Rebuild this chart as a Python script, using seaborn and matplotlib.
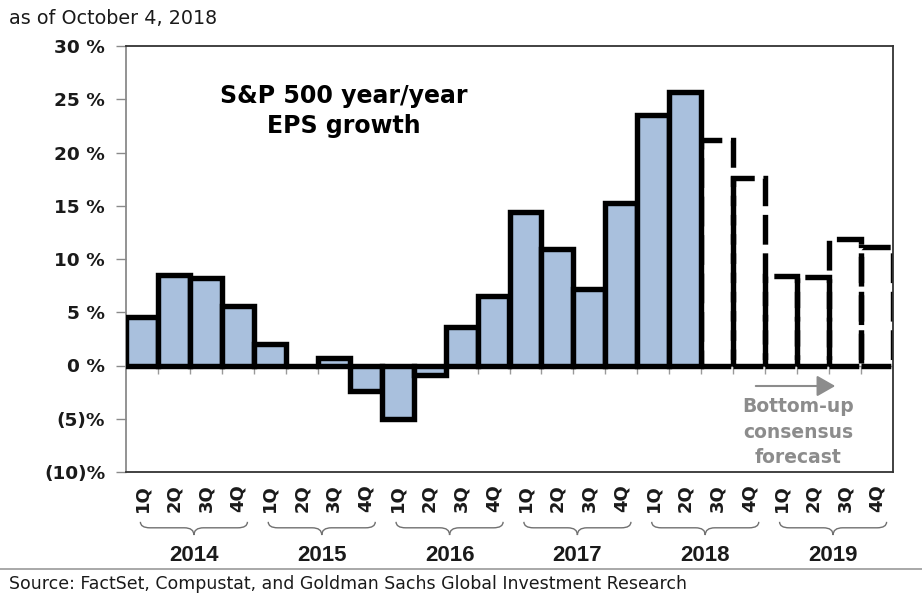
import matplotlib
matplotlib.use("Agg")
import matplotlib.pyplot as plt
import matplotlib.transforms as mtransforms
from matplotlib.path import Path
from matplotlib.patches import PathPatch, FancyArrowPatch
import seaborn as sns
import pandas as pd

# ---- data -------------------------------------------------------------
years = [2014, 2015, 2016, 2017, 2018, 2019]
quarter_names = ["1Q", "2Q", "3Q", "4Q"]
# reported S&P 500 year/year EPS growth (%), 1Q14 .. 2Q18
actual_growth = [4.6, 8.5, 8.2, 5.6,
                 2.0, 0.0, 0.7, -2.4,
                 -5.0, -0.9, 3.6, 6.5,
                 14.4, 10.9, 7.2, 15.3,
                 23.5, 25.7]
# bottom-up consensus forecast (%), 3Q18 .. 4Q19
forecast_growth = [21.2, 17.6,
                   8.4, 8.3, 11.9, 11.1]
y_ticks = [-10, -5, 0, 5, 10, 15, 20, 25, 30]
y_tick_labels = ["(10)%", "(5)%", "0 %", "5 %", "10 %", "15 %", "20 %", "25 %", "30 %"]

period_ids = [f"{q}{y % 100:02d}" for y in years for q in quarter_names]
tick_labels = [q for y in years for q in quarter_names]

n_act = len(actual_growth)
df_act = pd.DataFrame({"period": period_ids[:n_act], "growth": actual_growth})
df_fc = pd.DataFrame({"period": period_ids[n_act:], "growth": forecast_growth})

# ---- styling ----------------------------------------------------------
sns.set_theme(style="white")
plt.rcParams["font.family"] = ["DejaVu Sans"]
ARIAL = ["Liberation Sans", "DejaVu Sans"]

W, H = 922, 597
fig = plt.figure(figsize=(W / 100, H / 100), dpi=100)
ax = fig.add_axes([126 / W, 1 - 472 / H, 767 / W, 426 / H])

bar_fill = "#a9c0dd"
edge_lw = 3.9

# zero line and small boundary ticks underneath the bars
ax.axhline(0, color="#9a9a9a", lw=1.0, zorder=1)
boundaries = [i + 0.5 for i in range(len(period_ids) - 1)]
ax.vlines(boundaries, -0.8, 0, color="#9a9a9a", lw=1.0, zorder=1)

sns.barplot(data=df_act, x="period", y="growth", order=period_ids,
            color=bar_fill, saturation=1, width=1.0, errorbar=None,
            edgecolor="black", linewidth=edge_lw, ax=ax, zorder=3)
n_before = len(ax.patches)
sns.barplot(data=df_fc, x="period", y="growth", order=period_ids,
            color="white", saturation=1, width=1.0, errorbar=None,
            edgecolor="black", linewidth=edge_lw, ax=ax, zorder=2)
for p in ax.patches[n_before:]:
    p.set_facecolor("none")
    p.set_linestyle((0, (5.5, 1.6)))
    p.set_zorder(2)

ax.set_xlim(-0.5, len(period_ids) - 0.5)
ax.set_ylim(-10, 30)
ax.set_xlabel("")
ax.set_ylabel("")

ax.set_yticks(y_ticks)
ax.set_yticklabels(y_tick_labels, fontsize=13.3, fontweight="bold", color="#1a1a1a")
ax.tick_params(axis="y", direction="out", length=7, width=1, color="#8a8a8a", pad=8, left=True)

ax.set_xticks(range(len(period_ids)))
ax.set_xticklabels(tick_labels, rotation=90, fontsize=13, fontweight="bold", color="#1a1a1a")
ax.tick_params(axis="x", length=0, pad=9)

for side in ["left", "right", "top", "bottom"]:
    ax.spines[side].set_visible(True)
    ax.spines[side].set_linewidth(1.3)
ax.spines["left"].set_color("#8a8a8a")
ax.spines["top"].set_color("#333333")
ax.spines["right"].set_color("#333333")
ax.spines["bottom"].set_color("#333333")

# year braces below the quarter labels
trans = mtransforms.blended_transform_factory(ax.transData, ax.transAxes)


def draw_brace(x0, x1, ytop, ymid, ytip, r=0.3):
    xm = (x0 + x1) / 2
    verts = [(x0, ytop), (x0, ymid), (x0 + r, ymid),
             (xm - r, ymid),
             (xm, ymid), (xm, ytip),
             (xm, ymid), (xm + r, ymid),
             (x1 - r, ymid),
             (x1, ymid), (x1, ytop)]
    codes = [Path.MOVETO, Path.CURVE3, Path.CURVE3,
             Path.LINETO,
             Path.CURVE3, Path.CURVE3,
             Path.CURVE3, Path.CURVE3,
             Path.LINETO,
             Path.CURVE3, Path.CURVE3]
    patch = PathPatch(Path(verts, codes), fill=False, edgecolor="#707070",
                      lw=1.0, transform=trans, clip_on=False)
    ax.add_patch(patch)


for k, yr in enumerate(years):
    x0 = 4 * k - 0.05
    x1 = 4 * k + 3.3
    draw_brace(x0, x1, -0.117, -0.131, -0.148)
    ax.text((x0 + x1) / 2, -0.197, str(yr), transform=trans, ha="center", va="center",
            fontsize=16, fontweight="bold", color="#1a1a1a", family=ARIAL)

# chart title inside the plot
fig.text(344 / W, 1 - 111 / H, "S&P 500 year/year\nEPS growth", ha="center", va="center",
         fontsize=17, fontweight="bold", color="black", linespacing=1.35)

# forecast annotation
fig.text(798 / W, 1 - 432 / H, "Bottom-up\nconsensus\nforecast", ha="center", va="center",
         fontsize=13.5, fontweight="bold", color="#8c8c8c", linespacing=1.45)
fig.add_artist(FancyArrowPatch(
    (753 / W, 1 - 386 / H), (838 / W, 1 - 386 / H), transform=fig.transFigure,
    arrowstyle="-|>,head_length=7,head_width=4", color="#8c8c8c", lw=1.5,
    mutation_scale=1.6))

# header and footer
fig.text(9 / W, 1 - 18 / H, "as of October 4, 2018", ha="left", va="center",
         fontsize=13.8, color="#1a1a1a")
fig.add_artist(plt.Line2D([0, 1], [1 - 569 / H, 1 - 569 / H], transform=fig.transFigure,
                          color="#9a9a9a", lw=1.2))
fig.text(9 / W, 1 - 584 / H,
         "Source: FactSet, Compustat, and Goldman Sachs Global Investment Research",
         ha="left", va="center", fontsize=12.5, color="#1a1a1a")

fig.savefig("out.png", dpi=100)
